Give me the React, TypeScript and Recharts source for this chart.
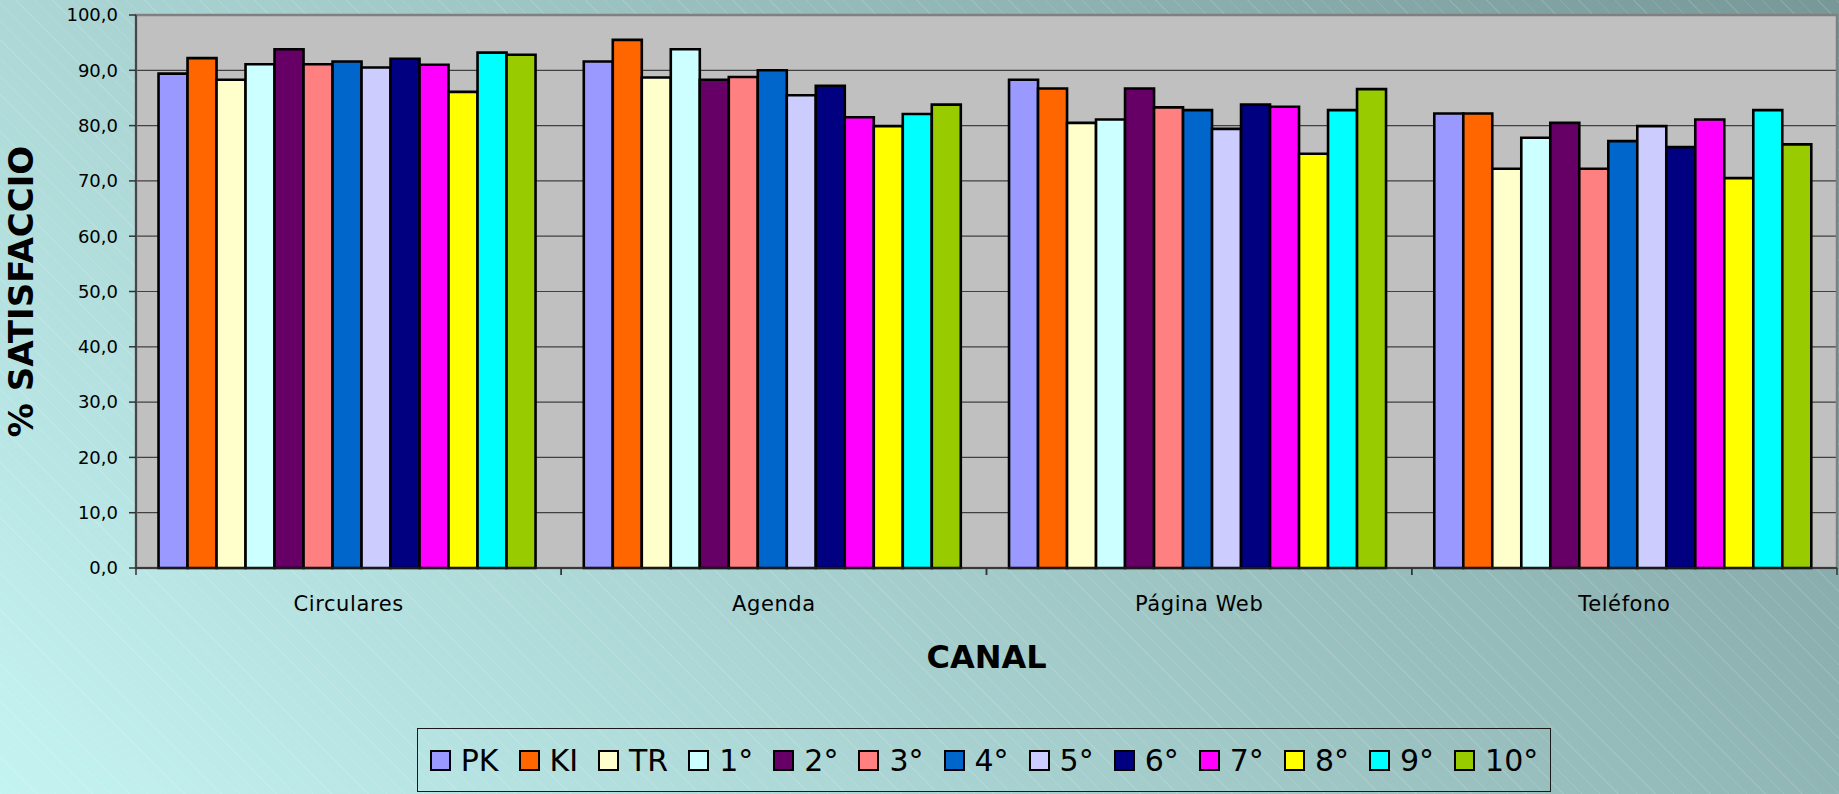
import React from 'react';
import { BarChart, Bar, XAxis, YAxis, CartesianGrid, Legend, Label, ReferenceArea } from 'recharts';

const CATEGORIES = ['Circulares', 'Agenda', 'Página Web', 'Teléfono'];

const PK = [89.4, 91.6, 88.3, 82.2];
const KI = [92.2, 95.5, 86.7, 82.2];
const TR = [88.3, 88.7, 80.5, 72.2];
const G1 = [91.1, 93.8, 81.1, 77.8];
const G2 = [93.8, 88.3, 86.7, 80.5];
const G3 = [91.1, 88.8, 83.3, 72.2];
const G4 = [91.6, 90.0, 82.8, 77.2];
const G5 = [90.5, 85.5, 79.4, 79.9];
const G6 = [92.1, 87.2, 83.8, 76.1];
const G7 = [91.0, 81.5, 83.4, 81.1];
const G8 = [86.1, 79.9, 74.9, 70.5];
const G9 = [93.2, 82.1, 82.8, 82.8];
const G10 = [92.8, 83.8, 86.6, 76.6];

const Y_TICKS = [0, 10, 20, 30, 40, 50, 60, 70, 80, 90, 100];

const SERIES = [
  { key: 'PK', name: 'PK', color: '#9999FF', values: PK },
  { key: 'KI', name: 'KI', color: '#FF6600', values: KI },
  { key: 'TR', name: 'TR', color: '#FFFFCC', values: TR },
  { key: 'g1', name: '1°', color: '#CCFFFF', values: G1 },
  { key: 'g2', name: '2°', color: '#660066', values: G2 },
  { key: 'g3', name: '3°', color: '#FF8080', values: G3 },
  { key: 'g4', name: '4°', color: '#0066CC', values: G4 },
  { key: 'g5', name: '5°', color: '#CCCCFF', values: G5 },
  { key: 'g6', name: '6°', color: '#000080', values: G6 },
  { key: 'g7', name: '7°', color: '#FF00FF', values: G7 },
  { key: 'g8', name: '8°', color: '#FFFF00', values: G8 },
  { key: 'g9', name: '9°', color: '#00FFFF', values: G9 },
  { key: 'g10', name: '10°', color: '#99CC00', values: G10 },
];

const DATA = CATEGORIES.map((c, i) => {
  const row: Record<string, any> = { canal: c };
  SERIES.forEach((s) => {
    row[s.key] = s.values[i];
  });
  return row;
});

const FONT = '"DejaVu Sans", Verdana, sans-serif';

const CategoryTick = (props: any) => {
  const { x, y, payload, width, visibleTicksCount } = props;
  const half =
    payload && typeof payload.offset === 'number' && payload.offset > 0
      ? payload.offset
      : width / (visibleTicksCount || CATEGORIES.length) / 2;
  return (
    <g>
      <line x1={x - half} x2={x - half} y1={y} y2={y + 7} stroke="#333" strokeWidth={1.5} />
      <line x1={x + half} x2={x + half} y1={y} y2={y + 7} stroke="#333" strokeWidth={1.5} />
      <text
        x={x}
        y={y + 43}
        textAnchor="middle"
        fontSize={21}
        letterSpacing={0.6}
        fill="#000"
        fontFamily={FONT}
      >
        {payload.value}
      </text>
    </g>
  );
};

const renderLegend = () => (
  <div
    style={{
      boxSizing: 'border-box',
      width: 1134,
      height: 64,
      border: '1px solid #1a1a1a',
      display: 'flex',
      alignItems: 'center',
      justifyContent: 'center',
      fontFamily: FONT,
      fontSize: 30,
      color: '#000',
    }}
  >
    {SERIES.map((s, i) => (
      <span
        key={s.key}
        style={{
          display: 'flex',
          alignItems: 'center',
          marginRight: i < SERIES.length - 1 ? 20 : 0,
        }}
      >
        <span
          style={{
            display: 'inline-block',
            width: 17,
            height: 17,
            border: '2px solid #000',
            background: s.color,
            marginRight: 10,
          }}
        />
        <span>{s.name}</span>
      </span>
    ))}
  </div>
);

export default function App() {
  return (
    <div
      style={{
        position: 'absolute',
        left: 0,
        top: 0,
        width: 1839,
        height: 794,
        overflow: 'hidden',
        background:
          'repeating-linear-gradient(45deg, rgba(255,255,255,0.12) 0px, rgba(255,255,255,0.12) 1px, transparent 1px, transparent 13px), linear-gradient(43deg, #c4f4f2 0%, #789898 100%)',
      }}
    >
      <BarChart
        width={1839}
        height={794}
        data={DATA}
        margin={{ top: 15, right: 2, bottom: 0, left: 0 }}
        barGap={0}
        barCategoryGap="5.3%"
        style={{ fontFamily: FONT }}
      >
        <CartesianGrid
          horizontal
          vertical={false}
          fill="#C0C0C0"
          fillOpacity={1}
          stroke="#404040"
          strokeWidth={1.2}
        />
        <ReferenceArea
          x1="Circulares"
          x2="Teléfono"
          y1={0}
          y2={100}
          fill="none"
          stroke="#808080"
          strokeWidth={2.5}
          ifOverflow="visible"
        />
        <XAxis
          dataKey="canal"
          height={162}
          tickSize={0}
          tickMargin={0}
          tickLine={false}
          axisLine={{ stroke: '#222', strokeWidth: 1.5 }}
          tick={<CategoryTick />}
          interval={0}
        >
          <Label
            value="CANAL"
            position="insideTop"
            offset={77}
            fontSize={32}
            fontWeight="bold"
            fill="#000"
          />
        </XAxis>
        <YAxis
          width={136}
          domain={[0, 100]}
          ticks={Y_TICKS}
          interval={0}
          tickSize={7}
          tickMargin={11}
          tickFormatter={(v: number) => v.toFixed(1).replace('.', ',')}
          tick={{ fill: '#000', fontSize: 18 }}
          tickLine={{ stroke: '#333', strokeWidth: 1.5 }}
          axisLine={{ stroke: '#333', strokeWidth: 1.5 }}
        >
          <Label
            value="% SATISFACCIO"
            angle={-90}
            position="insideLeft"
            offset={21}
            textAnchor="middle"
            fontSize={34}
            fontWeight="bold"
            fill="#000"
          />
        </YAxis>
        <Legend
          content={renderLegend}
          verticalAlign="bottom"
          wrapperStyle={{ left: 417, top: 728, bottom: 'auto', width: 1134, height: 64 }}
        />
        {SERIES.map((s) => (
          <Bar
            key={s.key}
            dataKey={s.key}
            name={s.name}
            fill={s.color}
            stroke="#000"
            strokeWidth={2.6}
            isAnimationActive={false}
          />
        ))}
      </BarChart>
    </div>
  );
}
